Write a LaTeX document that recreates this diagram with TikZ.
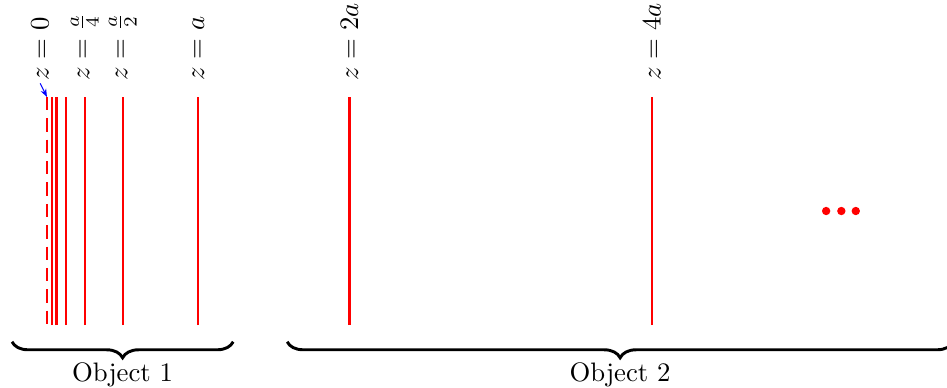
\documentclass[tikz,border=0pt]{standalone}
\usepackage{amsmath, amssymb}
\usetikzlibrary{arrows.meta, positioning, calc, decorations.pathreplacing}

\tikzset{
  plane/.style={red, thick},
  zlabel/.style={rotate=90, anchor=west, inner sep=1pt},
  objbrace/.style={decorate, decoration={brace, mirror, amplitude=6pt}, line width=1.1pt},
}

\begin{document}
\begin{tikzpicture}
  \useasboundingbox (-0.618,-0.816) rectangle (11.84,4.276);
  \def\a{1.99}
  \def\H{3}

  % planes
  \draw[plane, dash pattern=on 5pt off 3pt] (0,\H) coordinate (p0t) -- (0,0) coordinate (p0b);
  \foreach \k in {1,...,5} {
    \draw[plane] ({\a/2^\k},0) -- ({\a/2^\k},\H);
  }
  \draw[plane] (\a,0) -- (\a,\H);
  \draw[plane] (2*\a,0) -- (2*\a,\H);
  \draw[plane] (4*\a,0) -- (4*\a,\H);

  % labels
  \node[zlabel] (l0) at (-0.09,\H+0.18) {$z=0$};
  \node[zlabel] (l4) at (\a/4,\H+0.18) {$z=\frac{a}{4}$};
  \node[zlabel] (l2) at (\a/2,\H+0.18) {$z=\frac{a}{2}$};
  \node[zlabel] (l1) at (\a,\H+0.18) {$z=a$};
  \node[zlabel] (l2a) at (2*\a,\H+0.18) {$z=2a$};
  \node[zlabel] (l4a) at (4*\a,\H+0.18) {$z=4a$};
  \draw[-{Stealth[length=3pt]}, blue] (l0.west) -- (p0t);

  % dots
  \foreach \x in {10.25,10.45,10.64}
    \fill[red] (\x,1.5) circle (0.055);

  % objects
  \draw[objbrace] (-0.46,-0.22) -- node[below=4pt] (o1) {Object 1} (2.45,-0.22);
  \draw[objbrace] (3.16,-0.22) -- node[below=4pt] (o2) {Object 2} (11.92,-0.22);
\end{tikzpicture}
\end{document}
